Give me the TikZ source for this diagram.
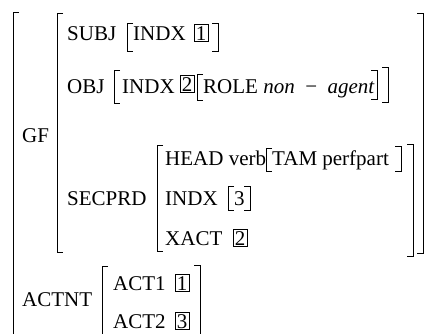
\documentclass[tikz,border=0pt]{standalone}
\usepackage{fontspec}
\setmainfont{Liberation Serif}
\usetikzlibrary{positioning}

% left and right brackets: x, top y, bottom y
\newcommand{\lbrk}[3]{\draw[brk] (#1+6,#2) -- (#1,#2) -- (#1,#3) -- (#1+6,#3);}
\newcommand{\rbrk}[3]{\draw[brk] (#1-6,#2) -- (#1,#2) -- (#1,#3) -- (#1-6,#3);}

\begin{document}
\begin{tikzpicture}[
  x=1pt, y=-1pt,
  feat/.style={anchor=base west, inner sep=0pt, font=\fontsize{21}{25}\selectfont},
  idx/.style={feat, draw, inner sep=1.6pt, line width=0.7pt},
  brk/.style={line width=0.9pt}
]
\useasboundingbox (0,0) rectangle (426,333);

% outer matrix
\lbrk{13}{12}{345}
\node[feat] (gf) at (22,142) {GF};
\node[feat] (actnt) at (22,306) {ACTNT};

% value of GF
\lbrk{57}{13}{252}
\rbrk{423}{13}{253}

\node[feat] (subj) at (67,40) {SUBJ};
\lbrk{127}{23}{51}
\node[feat] (subjindx) at (133,40) {INDX};
\node[idx] (tag1a) at (194,40) {1};
\rbrk{218}{23}{51}

\node[feat] (obj) at (67,93) {OBJ};
\lbrk{114}{70}{103}
\node[feat] (objindx) at (122,93) {INDX};
\node[idx] (tag2a) at (180,91) {2};
\lbrk{197}{74}{100}
\node[feat] (role) at (203,93) {ROLE \textit{non}\enspace−\enspace\textit{agent}};
\rbrk{377}{70}{99}
\rbrk{388}{67}{102}

% value of SECPRD
\node[feat] (secprd) at (67,205) {SECPRD};
\lbrk{157}{145}{251}
\rbrk{413}{144}{256}
\node[feat] (head) at (165,165) {HEAD verb};
\lbrk{266}{148}{171}
\node[feat] (tam) at (272,165) {TAM perfpart};
\rbrk{401}{146}{171}

\node[feat] (secindx) at (165,205) {INDX};
\lbrk{228}{186}{210}
\node[feat] (three) at (234,205) {3};
\rbrk{250}{186}{210}

\node[feat] (xact) at (165,245) {XACT};
\node[idx] (tag2b) at (233,245) {2};

% value of ACTNT
\lbrk{102}{266}{345}
\node[feat] (act1) at (113,290) {ACT1};
\node[idx] (tag1b) at (175,290) {1};
\node[feat] (act2) at (113,328) {ACT2};
\node[idx] (tag3) at (175,328) {3};
\rbrk{200}{265}{345}
\end{tikzpicture}
\end{document}
